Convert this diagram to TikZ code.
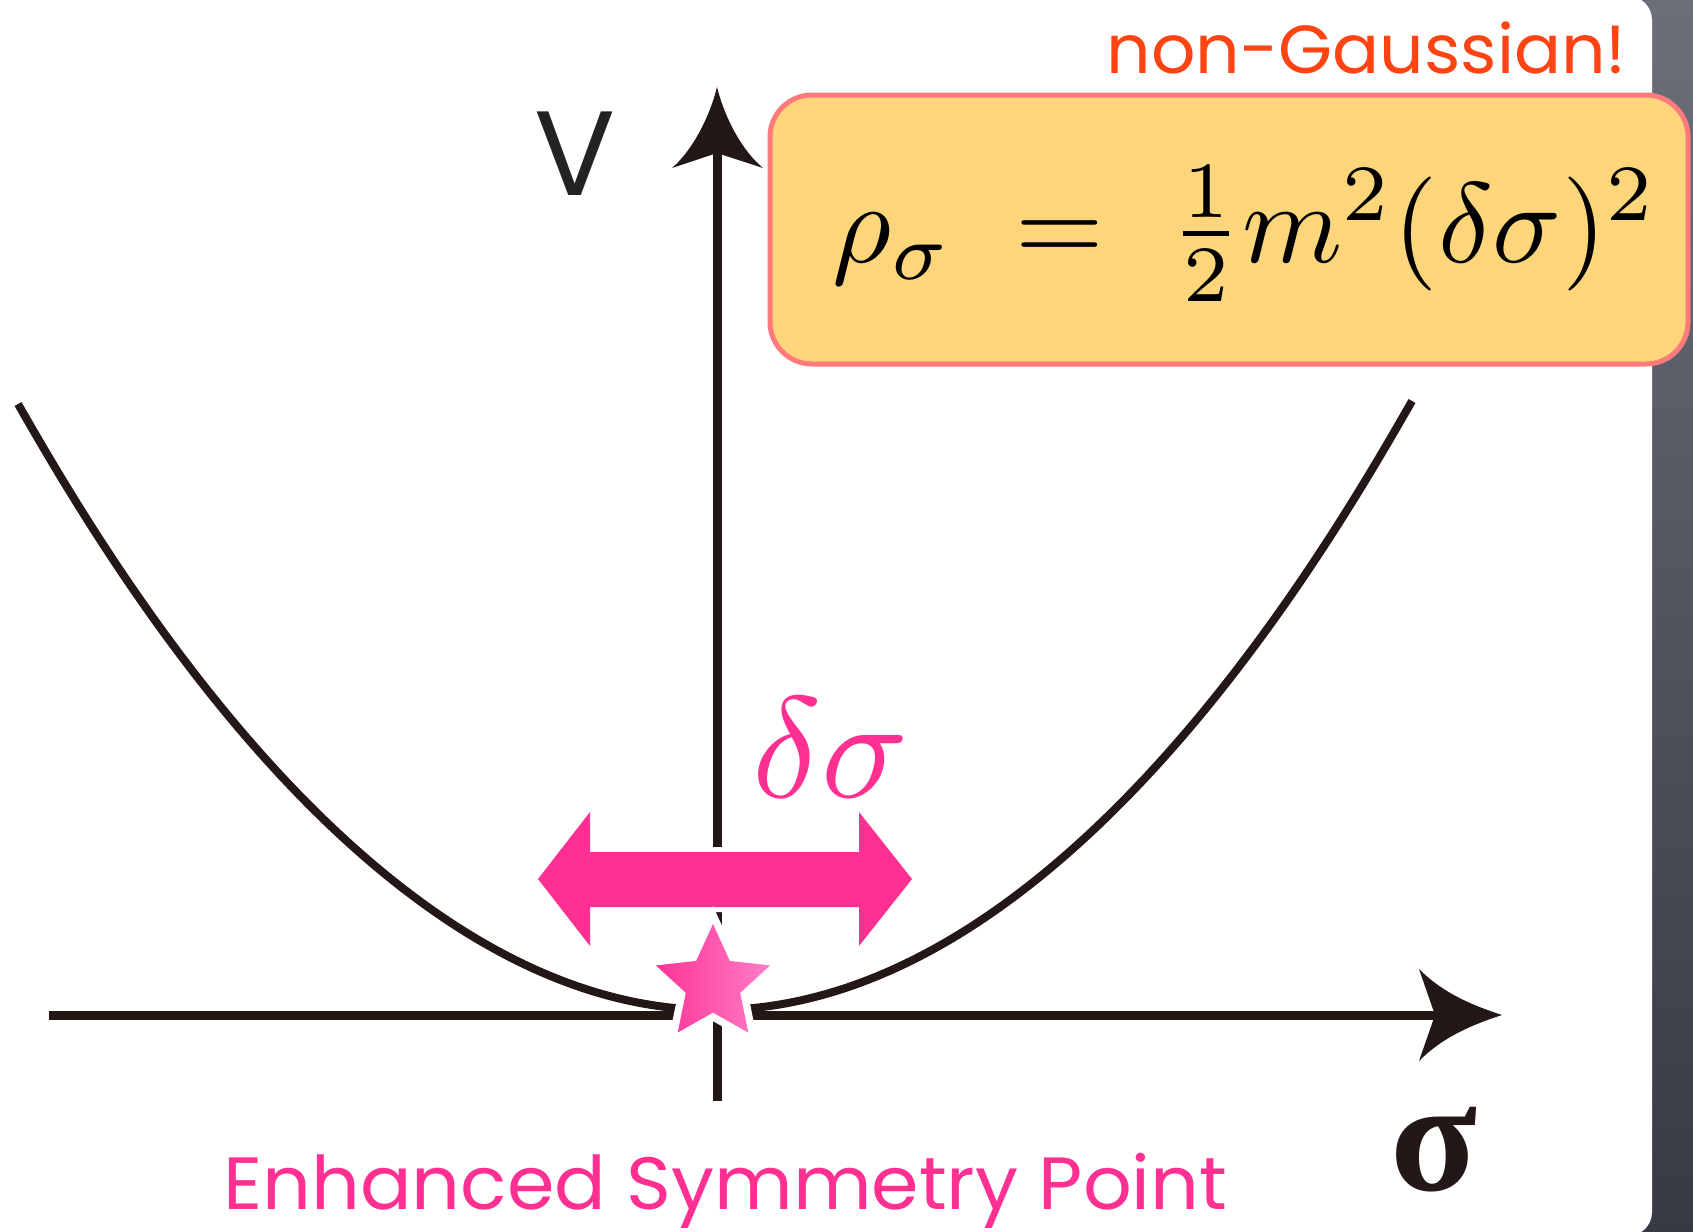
\documentclass[tikz,border=0pt]{standalone}
\usepackage{fontspec}
\usepackage{graphicx}
\usetikzlibrary{shapes.geometric}
\newfontfamily\handfont{Poppins}
\newfontfamily\serifb{Liberation Serif}
\definecolor{axiscol}{RGB}{35,24,21}
\definecolor{hotpink}{RGB}{255,48,145}
\definecolor{starL}{RGB}{255,51,150}
\definecolor{starR}{RGB}{255,125,200}
\definecolor{boxfill}{RGB}{253,213,122}
\definecolor{boxline}{RGB}{255,122,122}
\definecolor{orangered}{RGB}{255,68,20}
\definecolor{bgtop}{RGB}{108,111,122}
\definecolor{bgbot}{RGB}{55,58,68}
\definecolor{vcol}{RGB}{35,35,35}
\tikzset{
  axisline/.style={draw=axiscol, line width=4.5pt},
  curveline/.style={draw=axiscol, line width=4pt},
  headfill/.style={fill=axiscol},
  pinkarrow/.style={fill=hotpink},
}
\begin{document}
\begin{tikzpicture}[x=0.5pt,y=-0.5pt]
\useasboundingbox (0,0) rectangle (1693,1232);
% slide background
\shade[top color=bgtop, bottom color=bgbot] (1600,0) rectangle (1693,1232);
\fill[white, rounded corners=12pt] (-40,-4) rectangle (1652,1236);

% parabola
\draw[curveline] (18,404) parabola bend (714,1010) (1412,401);

% horizontal axis
\coordinate (xstart) at (49,1015);
\coordinate (xback) at (1435,1015);
\coordinate (xtip) at (1502,1015);
\draw[axisline] (xstart) -- (xback);
\fill[headfill] (xtip) .. controls (1465,1003) and (1440,990) .. (1419,969)
  -- (xback) -- (1419,1061) .. controls (1440,1040) and (1465,1027) .. (xtip) -- cycle;

% vertical axis
\coordinate (ystart) at (717,1101);
\coordinate (yback) at (717,153);
\coordinate (ytip) at (717,87);
\draw[axisline] (ystart) -- (yback);
\fill[headfill] (ytip) .. controls (711,112) and (695,148) .. (672,168)
  -- (yback) -- (763,168) .. controls (739,148) and (723,112) .. (ytip) -- cycle;

% double arrow
\draw[draw=white, line width=5pt, fill=white] (538,879) -- (590,812) -- (590,852) -- (859,852) -- (859,812) -- (912,879)
  -- (859,946) -- (859,907) -- (590,907) -- (590,946) -- cycle;
\fill[pinkarrow] (538,879) -- (590,812) -- (590,852) -- (859,852) -- (859,812) -- (912,879)
  -- (859,946) -- (859,907) -- (590,907) -- (590,946) -- cycle;

% star
\node[star, star points=5, star point ratio=2.1, minimum size=66pt, inner sep=0pt,
      fill=white, draw=white, line width=5pt] (starbg) at (713,984) {};
\node[star, star points=5, star point ratio=2.1, minimum size=60pt, inner sep=0pt,
      left color=starL, right color=starR, draw=none] (star) at (713,984) {};

% labels
\node[anchor=base, inner sep=0pt, text=hotpink] (dsig) at (831,797)
  {\scalebox{7.2}{$\delta\sigma$}};
\node[anchor=center, inner sep=0pt, text=vcol] (vlab) at (575,154)
  {\handfont\fontsize{60pt}{64pt}\selectfont V};
\node[anchor=base, inner sep=0pt, text=axiscol] (siglab) at (1434,1190)
  {\serifb\bfseries\fontsize{80pt}{84pt}\selectfont σ};
\node[anchor=base west, inner sep=0pt, text=hotpink] (esp) at (223,1209)
  {\resizebox{502pt}{\height}{\handfont\fontsize{37pt}{40pt}\selectfont Enhanced Symmetry Point}};
\node[anchor=base east, inner sep=0pt, text=orangered] (ng) at (1627,73)
  {\resizebox{260pt}{\height}{\handfont\fontsize{34pt}{38pt}\selectfont non-Gaussian!}};

% formula box
\node[draw=boxline, fill=boxfill, line width=2.5pt, rounded corners=21pt,
      minimum width=459pt, minimum height=134.5pt, inner sep=0pt] (box) at (1229,229.5) {};
\node[anchor=base west, inner sep=0pt] (formula) at (832,262)
  {\scalebox{5.7}{$\rho_\sigma\hspace{0.27em}=\hspace{0.3em}\frac{1}{2}m^2(\delta\sigma)^2$}};
\end{tikzpicture}
\end{document}
